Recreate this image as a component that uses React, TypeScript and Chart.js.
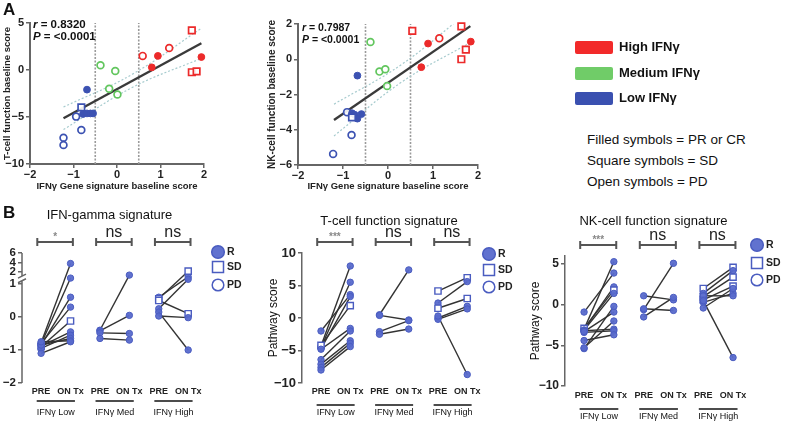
import React, { useEffect, useRef } from "react";
import { Chart, registerables } from "chart.js";
Chart.register(...registerables);

const FONT = "'Liberation Sans', Arial, Helvetica, sans-serif";

// ---------------- Panel A data ----------------
const ifngCutoffs = [-0.5, 0.5];
const aXTicks = [-2, -1, 0, 1, 2];
const aXTitle = "IFNγ Gene signature baseline score";

// T-cell function baseline score vs IFNγ score
const tcIfng = [-1.23, -1.23, -0.82, -0.94, -0.82, -0.69, -0.78, -0.69, -0.61, -0.55, -0.38, -0.04, -0.18, 0.01, 0.59, 0.94, 0.8, 1.2, 1.72, 1.94, 1.72, 1.83];
const tcScore = [-7.2, -7.98, -6.38, -4.96, -3.97, -2.09, -4.68, -4.62, -4.62, -4.62, 0.5, -0.1, -2.0, -2.6, 1.5, 1.5, 0.28, 2.34, 4.22, 1.38, -0.24, -0.14];
const tcLevel = ["L", "L", "L", "L", "L", "L", "L", "L", "L", "L", "M", "M", "M", "M", "H", "H", "H", "H", "H", "H", "H", "H"];
const tcResp = ["O", "O", "O", "O", "S", "F", "F", "F", "F", "F", "O", "O", "O", "O", "O", "F", "F", "O", "S", "F", "S", "S"];
const tcFitX = [-1.23, 1.94];
const tcFitY = [-5.14, 2.84];
const tcBandX = [-1.23, 0.35, 1.94];
const tcBandUp = [-3.94, -0.46, 4.44];
const tcBandLo = [-6.34, -1.86, 1.24];
const tcYTicks = [-10, -5, 0, 5];

// NK-cell function baseline score vs IFNγ score
const nkIfng = [-0.68, -0.91, -0.8, -0.74, -0.68, -0.59, -0.8, -0.81, -1.22, -0.39, -0.19, -0.06, -0.02, 0.54, 0.89, 1.14, 0.74, 1.63, 1.84, 1.73, 1.63];
const nkScore = [-0.93, -3.0, -3.06, -3.15, -3.37, -3.11, -3.3, -4.3, -5.37, 0.98, -0.7, -0.57, -1.52, 1.61, 0.89, 1.19, -0.45, 1.86, 1.0, 0.55, 0.0];
const nkLevel = ["L", "L", "L", "L", "L", "L", "L", "L", "L", "M", "M", "M", "M", "H", "H", "H", "H", "H", "H", "H", "H"];
const nkResp = ["F", "O", "F", "F", "F", "F", "S", "O", "O", "O", "O", "O", "O", "S", "F", "O", "F", "S", "F", "S", "S"];
const nkFitX = [-1.2, 1.83];
const nkFitY = [-3.45, 1.88];
const nkBandX = [-1.2, 0.3, 1.83];
const nkBandUp = [-2.55, -0.3, 2.8];
const nkBandLo = [-4.35, -1.3, 0.95];
const nkYTicks = [-6, -4, -2, 0, 2];

const levelLegend = ["High IFNγ", "Medium IFNγ", "Low IFNγ"];
const levelLegendColors = ["#f22a2a", "#70cc68", "#3a50b0"];
const symbolNotes = ["Filled symbols = PR or CR", "Square symbols = SD", "Open symbols = PD"];
const LEVEL_COLOR: any = { H: "#ec2a2a", M: "#62c65e", L: "#3c52b2" };

// ---------------- Panel B data ----------------
const bTickLabels = ["PRE", "ON Tx", "PRE", "ON Tx", "PRE", "ON Tx"];
const bGroupLabels = ["IFNγ Low", "IFNγ Med", "IFNγ High"];
const bLegendLabels = ["R", "SD", "PD"];

// IFN-gamma signature
const ifnLowPre = [-0.78, -0.82, -0.85, -0.8, -0.9, -0.88, -0.95, -0.85, -0.75, -1.1];
const ifnLowOn = [3.8, 1.5, 0.6, 0.3, -0.12, -0.45, -0.55, -0.65, -0.72, -0.75];
const ifnLowResp = ["R", "R", "R", "R", "SD", "R", "R", "R", "R", "R"];
const ifnMedPre = [-0.4, -0.42, -0.48, -0.65];
const ifnMedOn = [1.75, 0.05, -0.5, -0.7];
const ifnMedResp = ["R", "R", "R", "R"];
const ifnHighPre = [0.6, 0.55, 0.5, 0.25, 0.15, 0.03];
const ifnHighOn = [1.6, 2.2, 0.1, 1.4, -1.0, -0.02];
const ifnHighResp = ["R", "SD", "SD", "R", "R", "R"];
const ifnYTicks = [-2, -1, 0, 1, 2, 4, 6];
const ifnSig = ["*", "ns", "ns"];

// T-cell function signature
const tLowPre = [-2.0, -4.3, -4.5, -4.7, -4.2, -4.8, -6.4, -7.1, -7.6, -8.0];
const tLowOn = [3.6, 8.0, 5.5, 3.3, 1.9, -1.6, -2.0, -3.5, -3.9, -4.4];
const tLowResp = ["R", "R", "R", "R", "SD", "R", "R", "R", "R", "R"];
const tMedPre = [0.5, 0.4, -2.1, -2.5];
const tMedOn = [7.4, -0.3, -0.4, -1.7];
const tMedResp = ["R", "R", "R", "R"];
const tHighPre = [4.15, 2.3, 1.5, 0.0, -0.2, 0.3];
const tHighOn = [6.2, 5.6, 3.0, 1.8, 1.4, -8.7];
const tHighResp = ["SD", "R", "SD", "R", "R", "R"];
const tYTicks = [-10, -5, 0, 5, 10];
const tSig = ["***", "ns", "ns"];

// NK-cell function signature
const nLowPre = [-0.9, -3.0, -3.0, -2.9, -3.1, -3.2, -3.4, -3.3, -4.4, -5.4, -5.3];
const nLowOn = [3.9, 5.3, 2.2, 1.8, 1.4, -3.0, -3.2, -0.9, -3.7, -0.2, -2.0];
const nLowResp = ["R", "R", "R", "SD", "R", "R", "R", "R", "R", "R", "R"];
const nMedPre = [-0.6, 1.1, -0.5, -1.5];
const nMedOn = [5.1, 0.6, -0.7, 0.9];
const nMedResp = ["R", "R", "R", "R"];
const nHighPre = [2.0, 1.4, 1.0, 0.6, 0.3, 1.1, -0.4, 0.5];
const nHighOn = [4.6, 4.2, 3.4, 2.3, 1.4, 1.1, 2.0, -6.5];
const nHighResp = ["SD", "R", "SD", "SD", "R", "R", "R", "R"];
const nYTicks = [-10, -5, 0, 5];
const nSig = ["***", "ns", "ns"];

const PT_FILL = "rgba(88,106,204,0.95)";
const PT_EDGE = "#4a5cc0";

const fmt = (v: number) => String(v).replace("-", "\u2212");

// broken-axis mapping for the IFN-gamma panel (1..2 and 2..6 compressed)
function ifnAxis(v: number) {
  if (v <= 1) return v;
  if (v <= 2) return 1 + 0.36 * (v - 1);
  return 1.36 + 0.145 * (v - 2);
}

function pts(xs: number[], ys: number[]) {
  return xs.map((x, i) => ({ x, y: ys[i] }));
}

function scatterConfig(o: any) {
  const col = o.level.map((l: string) => LEVEL_COLOR[l]);
  const datasets: any[] = [
    {
      data: pts(o.x, o.y),
      pointStyle: o.resp.map((r: string) => (r === "S" ? "rect" : "circle")),
      pointRadius: o.resp.map((r: string) => (r === "S" ? 4.6 : 3.4)),
      backgroundColor: o.resp.map((r: string, i: number) => (r === "F" ? col[i] : "rgba(255,255,255,0.9)")),
      borderColor: col,
      borderWidth: o.resp.map((r: string) => (r === "F" ? 1 : 1.7)),
      clip: false,
      order: 0,
    },
    { data: pts(o.fitX, o.fitY), showLine: true, borderColor: "#3a3a3a", borderWidth: 2.4, pointRadius: 0, order: 1 },
    { data: pts(o.bandX, o.bandUp), showLine: true, tension: 0.4, borderColor: "#a6cbce", borderWidth: 1.2, borderDash: [2, 2], pointRadius: 0, order: 2 },
    { data: pts(o.bandX, o.bandLo), showLine: true, tension: 0.4, borderColor: "#a6cbce", borderWidth: 1.2, borderDash: [2, 2], pointRadius: 0, order: 2 },
    ...ifngCutoffs.map((c) => ({
      data: [{ x: c, y: o.yMin }, { x: c, y: o.yMax }],
      showLine: true,
      borderColor: "#9a9a9a",
      borderWidth: 1.6,
      borderDash: [2, 1.5],
      pointRadius: 0,
      order: 3,
    })),
  ];
  return {
    type: "scatter",
    data: { datasets },
    options: {
      responsive: false,
      animation: false,
      devicePixelRatio: 1,
      events: [],
      layout: { padding: { top: o.padT, right: o.padR, bottom: 0, left: 0 } },
      plugins: { legend: { display: false }, tooltip: { enabled: false } },
      scales: {
        x: {
          type: "linear",
          min: -2,
          max: 2,
          afterBuildTicks: (s: any) => {
            s.ticks = aXTicks.map((v) => ({ value: v }));
          },
          afterFit: (s: any) => {
            s.height = o.xH;
          },
          ticks: { autoSkip: false, maxRotation: 0, font: { family: FONT, size: 11, weight: "bold" }, color: "#222", padding: 0, callback: (v: number) => fmt(v) },
          grid: { display: true, drawOnChartArea: false, drawTicks: true, tickLength: 4, color: "#666", lineWidth: 1.5 },
          border: { display: true, color: "#666", width: 2 },
          title: { display: true, text: aXTitle, font: { family: FONT, size: 9.5, weight: "bold" }, color: "#222", padding: { top: 0, bottom: 3 } },
        },
        y: {
          type: "linear",
          min: o.yMin,
          max: o.yMax,
          afterBuildTicks: (s: any) => {
            s.ticks = o.yTicks.map((v: number) => ({ value: v }));
          },
          afterFit: (s: any) => {
            s.width = o.yW;
          },
          ticks: { autoSkip: false, font: { family: FONT, size: o.tickSize, weight: "bold" }, color: "#222", padding: 2, callback: (v: number) => fmt(v) },
          grid: { display: true, drawOnChartArea: false, drawTicks: true, tickLength: 4, color: "#666", lineWidth: 1.5 },
          border: { display: true, color: "#666", width: 2 },
          title: { display: true, text: o.yTitle, font: { family: FONT, size: o.yTitleSize, weight: "bold" }, color: "#222", padding: { top: o.yTitlePad, bottom: 0 } },
        },
      },
    },
  };
}

function pairedConfig(o: any) {
  const T = o.transform || ((v: number) => v);
  const datasets: any[] = [];
  const pd: any[] = [], ps: any[] = [], pr: any[] = [], pb: any[] = [], pw: any[] = [];
  o.groups.forEach((g: any, gi: number) => {
    g.pre.forEach((pre: number, i: number) => {
      const on = g.on[i];
      const r = g.resp[i];
      datasets.push({
        data: [{ x: 2 * gi, y: T(pre) }, { x: 2 * gi + 1, y: T(on) }],
        showLine: true,
        borderColor: "#333",
        borderWidth: 1.4,
        pointRadius: 0,
        order: 1,
      });
      [pre, on].forEach((v, k) => {
        pd.push({ x: 2 * gi + k, y: T(v) });
        ps.push(r === "SD" ? "rect" : "circle");
        pr.push(r === "SD" ? 4.4 : 3.2);
        pb.push(r === "R" ? PT_FILL : "#fff");
        pw.push(r === "R" ? 1 : 1.4);
      });
    });
  });
  datasets.unshift({ data: pd, pointStyle: ps, pointRadius: pr, backgroundColor: pb, borderColor: PT_EDGE, borderWidth: pw, clip: false, order: 0 });

  const deco = {
    id: "deco",
    beforeDatasetsDraw(chart: any) {
      if (!o.broken) return;
      const { ctx, chartArea: ca, scales } = chart;
      const y = scales.y;
      const xl = ca.left;
      ctx.save();
      ctx.strokeStyle = "#666";
      ctx.lineWidth = 1.5;
      ctx.beginPath();
      ctx.moveTo(xl, y.getPixelForValue(o.yMin));
      ctx.lineTo(xl, y.getPixelForValue(1.1));
      ctx.moveTo(xl, y.getPixelForValue(1.24));
      ctx.lineTo(xl, y.getPixelForValue(o.yMax));
      const b1 = y.getPixelForValue(1.1), b2 = y.getPixelForValue(1.24);
      ctx.moveTo(xl - 4, b1 + 2);
      ctx.lineTo(xl + 4, b1 - 2);
      ctx.moveTo(xl - 4, b2 + 2);
      ctx.lineTo(xl + 4, b2 - 2);
      ctx.stroke();
      ctx.restore();
    },
    afterDraw(chart: any) {
      const { ctx, chartArea: ca, scales } = chart;
      const x = scales.x;
      ctx.save();
      ctx.textAlign = "center";
      ctx.textBaseline = "middle";
      ctx.fillStyle = "#111";
      ctx.font = `13px ${FONT}`;
      ctx.fillText(o.title, (ca.left + ca.right) / 2, o.titleY);
      o.sig.forEach((s: string, gi: number) => {
        const x0 = x.getPixelForValue(2 * gi - 0.13);
        const x1 = x.getPixelForValue(2 * gi + 1.08);
        const by = ca.top - 11;
        ctx.strokeStyle = "#555";
        ctx.lineWidth = 2;
        ctx.beginPath();
        ctx.moveTo(x0, by);
        ctx.lineTo(x1, by);
        ctx.moveTo(x0, by - 4);
        ctx.lineTo(x0, by + 4);
        ctx.moveTo(x1, by - 4);
        ctx.lineTo(x1, by + 4);
        ctx.stroke();
        if (s === "ns") {
          ctx.font = `16px ${FONT}`;
          ctx.fillStyle = "#222";
          ctx.fillText(s, (x0 + x1) / 2, by - 9);
        } else {
          ctx.font = `bold 10px ${FONT}`;
          ctx.fillStyle = "#888";
          ctx.fillText(s, (x0 + x1) / 2, by - 5);
        }
        const u0 = x.getPixelForValue(2 * gi - 0.15);
        const u1 = x.getPixelForValue(2 * gi + 1.15);
        const uy = ca.bottom + o.ulDy;
        ctx.strokeStyle = "#111";
        ctx.lineWidth = 1.5;
        ctx.beginPath();
        ctx.moveTo(u0, uy);
        ctx.lineTo(u1, uy);
        ctx.stroke();
        ctx.font = `9px ${FONT}`;
        ctx.fillStyle = "#111";
        ctx.fillText(bGroupLabels[gi], x.getPixelForValue(2 * gi + 0.5), ca.bottom + o.glDy);
      });
      // legend
      bLegendLabels.forEach((lab, i) => {
        const lx = o.legX;
        const ly = o.legY[i];
        ctx.beginPath();
        ctx.lineWidth = 1.5;
        ctx.strokeStyle = PT_EDGE;
        if (i === 0) {
          ctx.fillStyle = PT_FILL;
          ctx.arc(lx, ly, 6.3, 0, Math.PI * 2);
          ctx.fill();
          ctx.stroke();
        } else if (i === 1) {
          ctx.fillStyle = "#fff";
          ctx.rect(lx - 5.5, ly - 5.5, 11, 11);
          ctx.fill();
          ctx.stroke();
        } else {
          ctx.fillStyle = "#fff";
          ctx.arc(lx, ly, 5.8, 0, Math.PI * 2);
          ctx.fill();
          ctx.stroke();
        }
        ctx.fillStyle = "#222";
        ctx.font = `bold 10.5px ${FONT}`;
        ctx.textAlign = "left";
        ctx.fillText(lab, lx + 9, ly);
        ctx.textAlign = "center";
      });
      ctx.restore();
    },
  };

  return {
    type: "scatter",
    data: { datasets },
    options: {
      responsive: false,
      animation: false,
      devicePixelRatio: 1,
      events: [],
      layout: { padding: { top: o.padT, right: o.padR, bottom: 0, left: 0 } },
      plugins: { legend: { display: false }, tooltip: { enabled: false } },
      scales: {
        x: {
          type: "linear",
          min: o.xMin,
          max: 5.3,
          afterBuildTicks: (s: any) => {
            s.ticks = bTickLabels.map((_, i) => ({ value: i }));
          },
          afterFit: (s: any) => {
            s.height = o.xH;
          },
          ticks: { autoSkip: false, maxRotation: 0, minRotation: 0, font: { family: FONT, size: 9, weight: "bold" }, color: "#222", padding: o.xTickPad, callback: (_: any, i: number) => bTickLabels[i] },
          grid: { display: false, drawTicks: false },
          border: { display: false },
        },
        y: {
          type: "linear",
          min: o.yMin,
          max: o.yMax,
          afterBuildTicks: (s: any) => {
            s.ticks = o.yTicks.map((v: number) => ({ value: T(v) }));
          },
          afterFit: (s: any) => {
            s.width = o.yW;
          },
          ticks: { autoSkip: false, font: { family: FONT, size: o.tickSize, weight: "bold" }, color: "#222", padding: 2, callback: (_: any, i: number) => fmt(o.yTicks[i]) },
          grid: { display: true, drawOnChartArea: false, drawTicks: true, tickLength: 4, color: "#666", lineWidth: 1.5 },
          border: { display: !o.broken, color: "#666", width: 1.5 },
          title: o.yTitle
            ? { display: true, text: o.yTitle, font: { family: FONT, size: 12 }, color: "#111", padding: { top: o.yTitlePad, bottom: 0 } }
            : { display: false },
        },
      },
    },
    plugins: [deco],
  };
}

function ChartCanvas({ left, top, width, height, make }: any) {
  const ref = useRef<HTMLCanvasElement>(null);
  useEffect(() => {
    const chart = new Chart(ref.current as HTMLCanvasElement, make());
    return () => chart.destroy();
  }, []);
  return (
    <div style={{ position: "absolute", left, top, width, height }}>
      <canvas ref={ref} width={width} height={height} style={{ width, height, display: "block" }} />
    </div>
  );
}

export default function App() {
  useEffect(() => {
    document.body.style.margin = "0";
  }, []);

  const makeA1 = () =>
    scatterConfig({
      x: tcIfng, y: tcScore, level: tcLevel, resp: tcResp,
      fitX: tcFitX, fitY: tcFitY, bandX: tcBandX, bandUp: tcBandUp, bandLo: tcBandLo,
      yMin: -10, yMax: 5, yTicks: tcYTicks, yTitle: "T-cell function baseline score",
      padT: 23, padR: 11, xH: 31, yW: 30, tickSize: 11, yTitleSize: 9.5, yTitlePad: 2,
    });
  const makeA2 = () =>
    scatterConfig({
      x: nkIfng, y: nkScore, level: nkLevel, resp: nkResp,
      fitX: nkFitX, fitY: nkFitY, bandX: nkBandX, bandUp: nkBandUp, bandLo: nkBandLo,
      yMin: -6, yMax: 2, yTicks: nkYTicks, yTitle: "NK-cell function baseline score",
      padT: 24, padR: 10, xH: 30, yW: 36, tickSize: 11, yTitleSize: 10, yTitlePad: 4,
    });

  const makeB1 = () =>
    pairedConfig({
      groups: [
        { pre: ifnLowPre, on: ifnLowOn, resp: ifnLowResp },
        { pre: ifnMedPre, on: ifnMedOn, resp: ifnMedResp },
        { pre: ifnHighPre, on: ifnHighOn, resp: ifnHighResp },
      ],
      transform: ifnAxis, broken: true,
      yMin: -2, yMax: ifnAxis(6), yTicks: ifnYTicks, sig: ifnSig,
      title: "IFN-gamma signature", titleY: 20,
      padT: 58, padR: 58, xH: 45, yW: 22, xMin: -0.65, tickSize: 11.5, xTickPad: 3,
      ulDy: 18, glDy: 30, legX: 218, legY: [57, 72, 90],
    });
  const makeB2 = () =>
    pairedConfig({
      groups: [
        { pre: tLowPre, on: tLowOn, resp: tLowResp },
        { pre: tMedPre, on: tMedOn, resp: tMedResp },
        { pre: tHighPre, on: tHighOn, resp: tHighResp },
      ],
      yMin: -10, yMax: 10, yTicks: tYTicks, sig: tSig,
      title: "T-cell function signature", titleY: 26,
      yTitle: "Pathway score", yTitlePad: 11,
      padT: 58, padR: 44, xH: 45, yW: 47, xMin: -0.65, tickSize: 13, xTickPad: 3,
      ulDy: 22, glDy: 30, legX: 234, legY: [59, 75, 92],
    });
  const makeB3 = () =>
    pairedConfig({
      groups: [
        { pre: nLowPre, on: nLowOn, resp: nLowResp },
        { pre: nMedPre, on: nMedOn, resp: nMedResp },
        { pre: nHighPre, on: nHighOn, resp: nHighResp },
      ],
      yMin: -10, yMax: 6, yTicks: nYTicks, sig: nSig,
      title: "NK-cell function signature", titleY: 26,
      yTitle: "Pathway score", yTitlePad: 8,
      padT: 61, padR: 43, xH: 42, yW: 45, xMin: -0.64, tickSize: 12, xTickPad: 4,
      ulDy: 23, glDy: 31, legX: 237, legY: [50, 68, 85],
    });

  return (
    <div style={{ position: "relative", width: 785, height: 428, background: "#fff", overflow: "hidden", fontFamily: FONT, color: "#111" }}>
      <ChartCanvas left={0} top={0} width={215} height={195} make={makeA1} />
      <ChartCanvas left={262} top={0} width={226} height={195} make={makeA2} />
      <ChartCanvas left={0} top={195} width={255} height={233} make={makeB1} />
      <ChartCanvas left={255} top={195} width={265} height={233} make={makeB2} />
      <ChartCanvas left={520} top={195} width={265} height={233} make={makeB3} />

      <div style={{ position: "absolute", left: 3, top: 0, font: `bold 17px ${FONT}` }}>A</div>
      <div style={{ position: "absolute", left: 3, top: 203, font: `bold 17px ${FONT}` }}>B</div>

      <div style={{ position: "absolute", left: 33, top: 18, font: `bold 11.5px ${FONT}`, lineHeight: "12px", whiteSpace: "nowrap" }}>
        <i>r</i> = 0.8320
        <br />
        <i>P</i> = &lt;0.0001
      </div>
      <div style={{ position: "absolute", left: 302, top: 22, font: `bold 10.5px ${FONT}`, lineHeight: "11.5px", whiteSpace: "nowrap" }}>
        <i>r</i> = 0.7987
        <br />
        <i>P</i> = &lt;0.0001
      </div>

      {levelLegend.map((lab, i) => (
        <div key={lab}>
          <div style={{ position: "absolute", left: 575, top: 41 + i * 25.5, width: 38, height: 13, borderRadius: 2, background: levelLegendColors[i] }} />
          <div style={{ position: "absolute", left: 619, top: 39 + i * 25.5, font: `bold 13px ${FONT}`, lineHeight: "16px", whiteSpace: "nowrap" }}>{lab}</div>
        </div>
      ))}
      {symbolNotes.map((t, i) => (
        <div key={t} style={{ position: "absolute", left: 587, top: 131 + i * 21, font: `13.5px ${FONT}`, lineHeight: "18px", whiteSpace: "nowrap" }}>
          {t}
        </div>
      ))}
    </div>
  );
}
